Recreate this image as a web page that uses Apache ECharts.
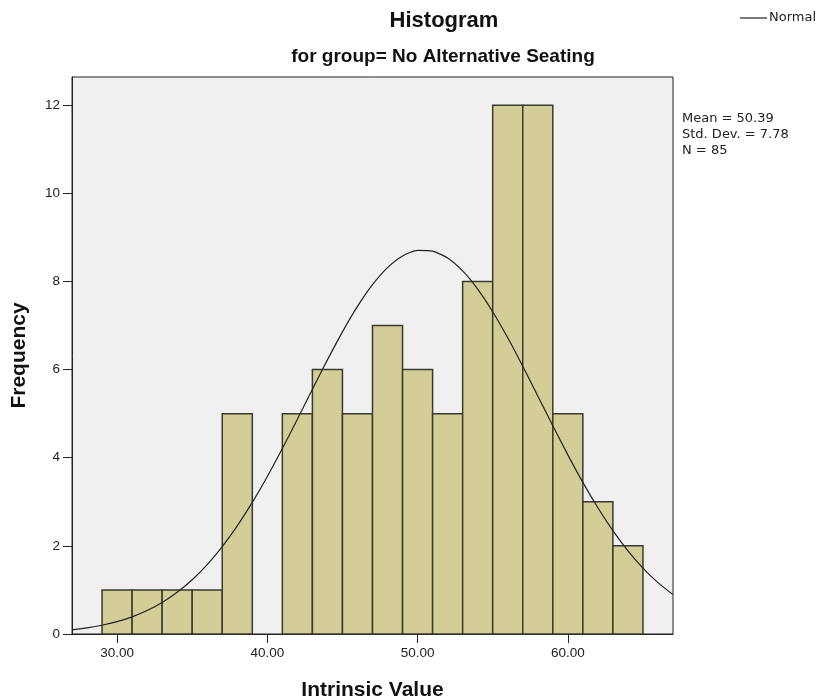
<!DOCTYPE html>
<html><head><meta charset="utf-8">
<script src="https://cdn.jsdelivr.net/npm/echarts@6/dist/echarts.min.js"></script>
<style>html,body{margin:0;padding:0;background:#fff}#c{width:821px;height:700px}</style>
</head><body><div id="c"></div>
<script>
// Histogram bins (lower edge, upper edge) and frequencies
const binStarts = [29,31,33,35,37,39,41,43,45,47,49,51,53,55,57,59,61,63];
const binWidth = 2;
const frequencies = [1,1,1,1,5,0,5,6,5,7,6,5,8,12,12,5,3,2];
// Normal curve read at integer x values 27..67
const curveX = [27,28,29,30,31,32,33,34,35,36,37,38,39,40,41,42,43,44,45,46,47,48,49,50,51,52,53,54,55,56,57,58,59,60,61,62,63,64,65,66,67];
const curveY = [0.095,0.139,0.199,0.281,0.390,0.533,0.717,0.948,1.232,1.575,1.982,2.453,2.986,3.574,4.208,4.874,5.552,6.221,6.857,7.434,7.927,8.315,8.579,8.706,8.690,8.532,8.240,7.828,7.314,6.722,6.076,5.403,4.726,4.065,3.440,2.864,2.344,1.887,1.495,1.165,0.893];
const xTicks = [30,40,50,60];
const yTicks = [0,2,4,6,8,10,12];
const statsLines = ['Mean = 50.39','Std. Dev. = 7.78','N = 85'];

const FONT = '"Liberation Sans", Arial, sans-serif';
const SMALL = '"DejaVu Sans", sans-serif';
const chart = echarts.init(document.getElementById('c'));
const barData = binStarts.map((s,i)=>[s, s+binWidth, frequencies[i]]).filter(d=>d[2]>0);
const lineData = curveX.map((x,i)=>[x, curveY[i]]);

chart.setOption({
  animation:false,
  backgroundColor:'#ffffff',
  grid:{left:72,right:148,top:77,bottom:66,show:true,backgroundColor:'#f0f0f0',borderColor:'#222',borderWidth:1,outerBoundsMode:'none',containLabel:false},
  xAxis:{type:'value',min:27,max:67,interval:10,
    axisLine:{show:true,onZero:false,lineStyle:{color:'#222'}},
    axisTick:{show:true,length:9,lineStyle:{color:'#222'},customValues:xTicks},
    axisLabel:{color:'#222',fontFamily:FONT,fontSize:13.5,margin:12,customValues:xTicks,formatter:v=>v.toFixed(2)},
    splitLine:{show:false},
    name:'Intrinsic Value',nameLocation:'middle',nameGap:46,
    nameTextStyle:{fontFamily:FONT,fontSize:21,fontWeight:'bold',color:'#111'}},
  yAxis:{type:'value',min:0,max:12.64,
    axisLine:{show:true,lineStyle:{color:'#222'}},
    axisTick:{show:true,length:9,lineStyle:{color:'#222'},customValues:yTicks},
    axisLabel:{color:'#222',fontFamily:FONT,fontSize:13.5,margin:12,customValues:yTicks},
    splitLine:{show:false},
    name:'Frequency',nameLocation:'middle',nameGap:42,nameRotate:90,
    nameTextStyle:{fontFamily:FONT,fontSize:21,fontWeight:'bold',color:'#111'}},
  series:[
    {type:'custom',data:barData,encode:{x:[0,1],y:2},
     renderItem:function(params,api){
       const p0=api.coord([api.value(0),api.value(2)]);
       const p1=api.coord([api.value(1),0]);
       return {type:'rect',shape:{x:p0[0],y:p0[1],width:p1[0]-p0[0],height:p1[1]-p0[1]},
         style:{fill:'#d3ce98',stroke:'#3a3a30',lineWidth:1.5}};
     },z:2},
    {type:'line',name:'Normal',data:lineData,smooth:0.2,showSymbol:false,
     lineStyle:{color:'#222',width:1.2},z:3}
  ],
  graphic:[
    {type:'text',x:444,y:21,style:{text:'Histogram',fontFamily:FONT,fontSize:22,fontWeight:'bold',fill:'#111',align:'center',verticalAlign:'middle'}},
    {type:'text',x:443,y:57,style:{text:'for group= No Alternative Seating',fontFamily:FONT,fontSize:19,fontWeight:'bold',fill:'#111',align:'center',verticalAlign:'middle'}},
    {type:'line',shape:{x1:740,y1:18,x2:767,y2:18},style:{stroke:'#222',lineWidth:1.2}},
    {type:'text',x:769,y:18,style:{text:'Normal',fontFamily:SMALL,fontSize:13,fill:'#222',verticalAlign:'middle'}},
    {type:'text',x:682,y:111,style:{text:statsLines.join('\n'),fontFamily:SMALL,fontSize:13,lineHeight:16,fill:'#222'}}
  ]
});
</script></body></html>
